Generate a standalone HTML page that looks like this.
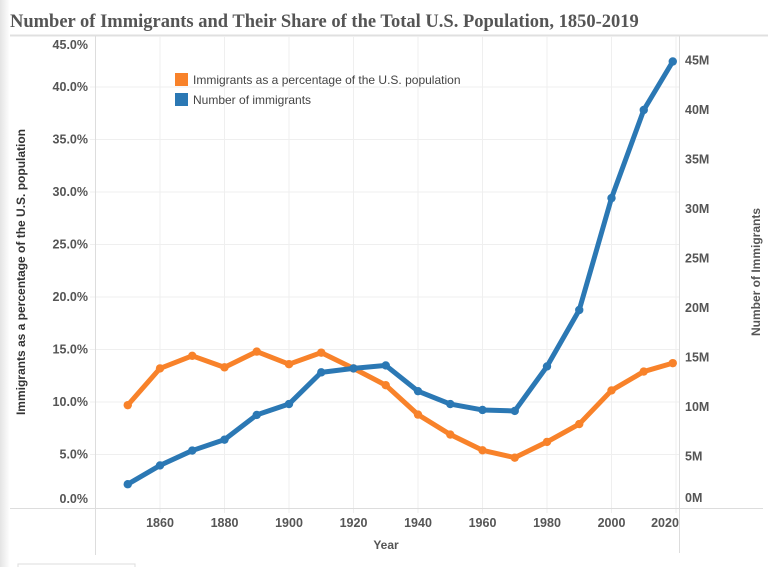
<!DOCTYPE html>
<html><head><meta charset="utf-8"><style>
html,body{margin:0;padding:0;background:#fff;width:768px;height:567px;overflow:hidden}
</style></head><body>
<svg id="s" width="768" height="567" xmlns="http://www.w3.org/2000/svg" font-family="Liberation Sans, sans-serif">
<defs><linearGradient id="g" x1="0" x2="1"><stop offset="0" stop-color="#e4e4e4"/><stop offset="1" stop-color="#fff"/></linearGradient></defs>
<rect x="0" y="0" width="10" height="567" fill="url(#g)"/>
<text x="10" y="27" font-family="Liberation Serif, serif" font-weight="bold" font-size="18.5" fill="#555">Number of Immigrants and Their Share of the Total U.S. Population, 1850-2019</text>
<line x1="10" y1="35.5" x2="768" y2="35.5" stroke="#e0e0e0" stroke-width="2"/>
<g id="grid" stroke="#efefef" stroke-width="1"></g>
<line x1="95.5" y1="36" x2="95.5" y2="555" stroke="#ddd"/>
<line x1="679.5" y1="36" x2="679.5" y2="553" stroke="#ddd"/>
<line x1="10" y1="508.5" x2="763" y2="508.5" stroke="#ddd"/>
<g id="lbl" font-size="12.5" font-weight="bold" fill="#555"></g>
<text transform="translate(25,272) rotate(-90)" text-anchor="middle" font-size="12" font-weight="bold" fill="#333">Immigrants as a percentage of the U.S. population</text>
<text transform="translate(760,272) rotate(-90)" text-anchor="middle" font-size="12" font-weight="bold" fill="#555">Number of Immigrants</text>
<text x="386" y="549" text-anchor="middle" font-size="12" font-weight="bold" fill="#555">Year</text>
<rect x="175" y="73" width="13" height="13" fill="#f8822a"/>
<text x="193" y="84" font-size="12" fill="#444">Immigrants as a percentage of the U.S. population</text>
<rect x="175" y="93" width="13" height="13" fill="#2b78b4"/>
<text x="193" y="104" font-size="12" fill="#444">Number of immigrants</text>
<g id="series"></g>
<rect x="18" y="564" width="117" height="6" fill="none" stroke="#ddd"/>
</svg>
<script>
var NS="http://www.w3.org/2000/svg";
function el(p,t,a,txt){var e=document.createElementNS(NS,t);for(var k in a)e.setAttribute(k,a[k]);if(txt)e.textContent=txt;document.getElementById(p).appendChild(e);return e;}
function X(y){return 160+(y-1860)*3.225;}
function YP(p){return 507-p*10.5;}
function YM(m){return 506-m*9.9;}
for(var p=0;p<=45;p+=5){var y=YP(p);if(p>0)el("grid","line",{x1:90,x2:679,y1:y,y2:y});var ly=y+4;if(p==0)ly=503;if(p==45)ly=49;el("lbl","text",{x:88,y:ly,"text-anchor":"end"},p.toFixed(1)+"%");}
for(var m=0;m<=45;m+=5){var y=YM(m);var ly=y+4;if(m==0)ly=502;el("lbl","text",{x:685,y:ly},m+"M");}
for(var yr=1860;yr<=2020;yr+=20){var x=X(yr);el("grid","line",{x1:x,x2:x,y1:36,y2:513});el("lbl","text",{x:yr==2020?665:x,y:527,"text-anchor":"middle"},yr);}
var yrs=[1850,1860,1870,1880,1890,1900,1910,1920,1930,1940,1950,1960,1970,1980,1990,2000,2010,2019];
var num=[2.2,4.1,5.6,6.7,9.2,10.3,13.5,13.9,14.2,11.6,10.3,9.7,9.6,14.1,19.8,31.1,40.0,44.9];
var pct=[9.7,13.2,14.4,13.3,14.8,13.6,14.7,13.2,11.6,8.8,6.9,5.4,4.7,6.2,7.9,11.1,12.9,13.7];
function draw(d,f,c){var pts=yrs.map(function(y,i){return X(y)+","+f(d[i]);}).join(" ");
el("series","polyline",{points:pts,fill:"none",stroke:c,"stroke-width":5,"stroke-linejoin":"round","stroke-linecap":"round"});
yrs.forEach(function(y,i){el("series","circle",{cx:X(y),cy:f(d[i]),r:4.2,fill:c});});}
draw(pct,YP,"#f8822a");draw(num,YM,"#2b78b4");
</script>
</body></html>
